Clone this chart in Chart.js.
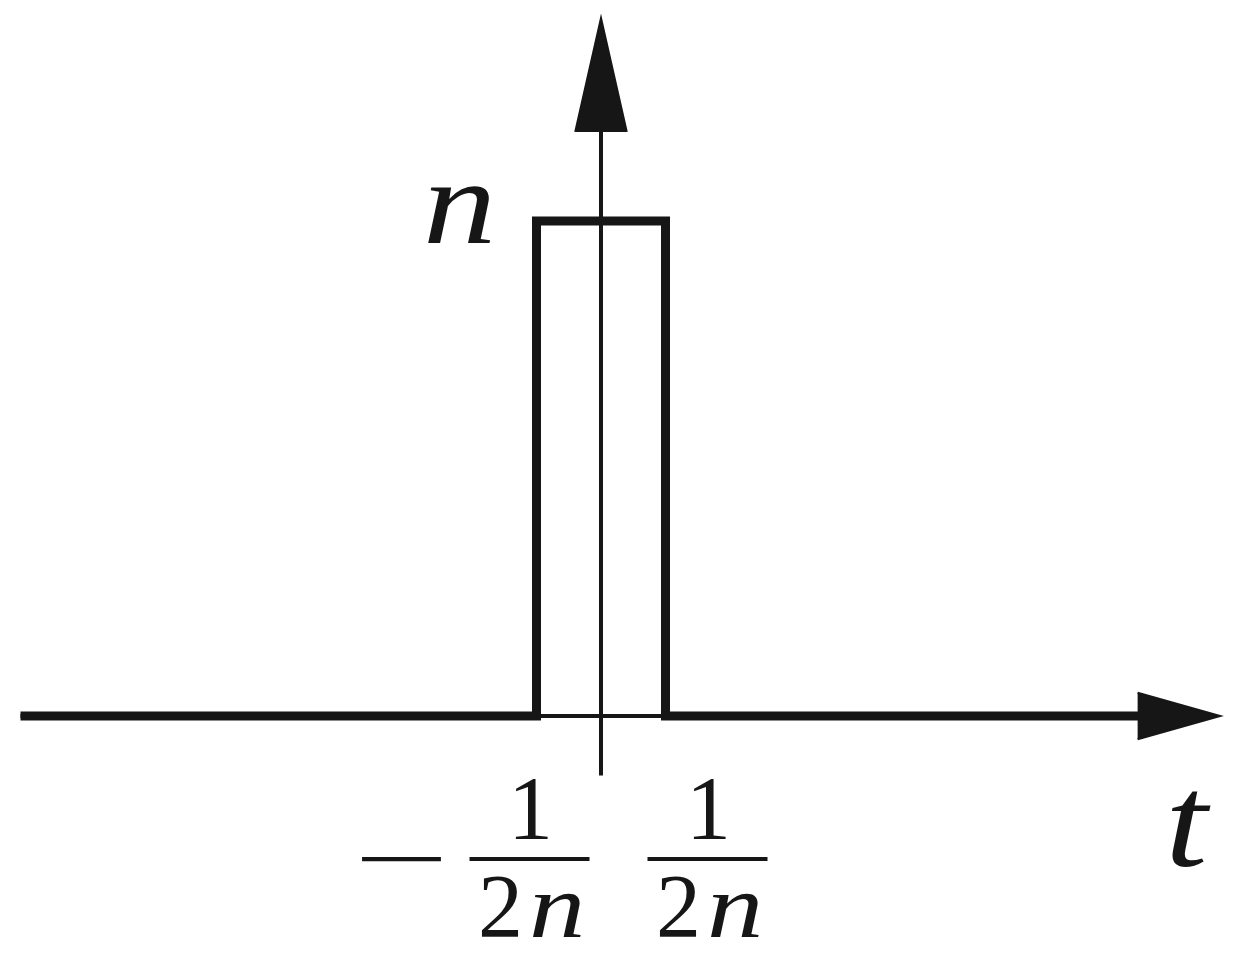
<!DOCTYPE html>
<html>
<head>
<meta charset="utf-8">
<title>Rectangular pulse</title>
<script src="https://cdn.jsdelivr.net/npm/chart.js@4"></script>
<style>
  html, body { margin: 0; padding: 0; background: #fff; }
  canvas { display: block; }
</style>
</head>
<body>
<canvas id="pulse" width="1248" height="958"></canvas>
<script>
// pulse of width 1/n and height n, drawn with n = 1 on the scale
var pulseX = [-4.5, -0.5, -0.5, 0.5, 0.5, 4.2];
var pulseY = [0, 0, 1, 1, 0, 0];

// axes
var tAxisX = [-4.5, 4.2];
var tAxisY = [0, 0];
var vAxisX = [0, 0];
var vAxisY = [-0.12, 1.2];

// arrow heads
var tArrowX = [4.16, 4.8, 4.16];
var tArrowY = [0.047, 0, -0.047];
var vArrowX = [-0.2, 0, 0.2];
var vArrowY = [1.18, 1.41, 1.18];

// tick labels  -1/(2n)  and  1/(2n)
var tickValues = [-0.5, 0.5];
var tickSigns = ["\u2212", ""];
var tickNumer = ["1", "1"];
var tickDenom = ["2n", "2n"];
var heightLabel = "n";
var axisLabel = "t";

var ink = "#161616";
var serif = "'Liberation Serif', serif";

function pts(xs, ys) {
  return xs.map(function (x, i) { return { x: x, y: ys[i] }; });
}

function line(xs, ys, w) {
  return {
    data: pts(xs, ys),
    showLine: true,
    borderColor: ink,
    borderWidth: w,
    pointRadius: 0,
    tension: 0,
    fill: false,
    clip: false,
    borderJoinStyle: "miter",
    borderCapStyle: "butt"
  };
}

function arrow(xs, ys) {
  var d = line(xs, ys, 2);
  d.fill = "shape";
  d.backgroundColor = ink;
  return d;
}

// one glyph, optionally widened (italic letters look more like TeX math)
function glyph(ctx, c, x, y, font, sx) {
  ctx.save();
  ctx.font = font;
  ctx.translate(x, y);
  ctx.scale(sx, 1);
  ctx.fillText(c, 0, 0);
  ctx.restore();
}

// draws a string char by char: letters italic, digits upright
function mathText(ctx, str, cx, y, size) {
  var chars = str.split("");
  var parts = chars.map(function (c, i) {
    var it = /[a-z]/.test(c);
    var f = (it ? "italic " : "") + size + "px " + serif;
    ctx.font = f;
    var sx = it ? 1.25 : 1;
    var gap = (!it && i < chars.length - 1) ? 6 : 0;
    return { c: c, f: f, sx: sx, w: ctx.measureText(c).width * sx + gap };
  });
  var total = parts.reduce(function (s, p) { return s + p.w; }, 0);
  var x = cx - total / 2;
  ctx.textAlign = "left";
  parts.forEach(function (p) {
    glyph(ctx, p.c, x, y, p.f, p.sx);
    x += p.w;
  });
}

const labelPlugin = {
  id: "pulseLabels",
  afterDatasetsDraw(chart) {
    const ctx = chart.ctx;
    const xs = chart.scales.x, ys = chart.scales.y;
    const base = ys.getPixelForValue(0);
    const fracShift = [-7, 42];
    const fs = 90;
    ctx.save();
    ctx.fillStyle = ink;
    ctx.strokeStyle = ink;
    ctx.textBaseline = "alphabetic";

    tickValues.forEach(function (v, i) {
      const cx = xs.getPixelForValue(v) + fracShift[i];
      const barY = base + 143;
      mathText(ctx, tickNumer[i], cx + 1, base + 123, fs);
      ctx.lineWidth = 4;
      ctx.beginPath();
      ctx.moveTo(cx - 60, barY);
      ctx.lineTo(cx + 60, barY);
      ctx.stroke();
      mathText(ctx, tickDenom[i], cx + 2, base + 221, fs);

      if (tickSigns[i]) {
        ctx.font = fs + "px " + serif;
        const m = ctx.measureText(tickSigns[i]);
        const off = (m.actualBoundingBoxDescent - m.actualBoundingBoxAscent) / 2;
        const inkW = m.actualBoundingBoxLeft + m.actualBoundingBoxRight;
        const mid = (m.actualBoundingBoxRight - m.actualBoundingBoxLeft) / 2;
        const sx = 81 / Math.max(inkW, 1);
        ctx.save();
        ctx.translate(cx - 127.5, barY - off);
        ctx.scale(sx, 1);
        ctx.textAlign = "left";
        ctx.fillText(tickSigns[i], -mid, 0);
        ctx.restore();
      }
    });

    ctx.textAlign = "left";
    glyph(ctx, heightLabel, xs.getPixelForValue(0) - 178, ys.getPixelForValue(1) + 22,
      "italic 120px " + serif, 1.22);

    glyph(ctx, axisLabel, xs.getPixelForValue(4.8) - 55, base + 150,
      "italic 132px " + serif, 1.15);
    ctx.restore();
  }
};

new Chart("pulse", {
  type: "scatter",
  data: {
    datasets: [
      line(pulseX, pulseY, 9),
      line(tAxisX, tAxisY, 4),
      line(vAxisX, vAxisY, 4),
      arrow(tArrowX, tArrowY),
      arrow(vArrowX, vArrowY)
    ]
  },
  options: {
    responsive: false,
    animation: false,
    layout: { padding: 0 },
    plugins: {
      legend: { display: false },
      tooltip: { enabled: false }
    },
    scales: {
      x: { type: "linear", min: -601 / 129, max: (1248 - 601) / 129, display: false },
      y: { type: "linear", min: -(958 - 716) / 495, max: 716 / 495, display: false }
    }
  },
  plugins: [labelPlugin]
});
</script>
</body>
</html>
